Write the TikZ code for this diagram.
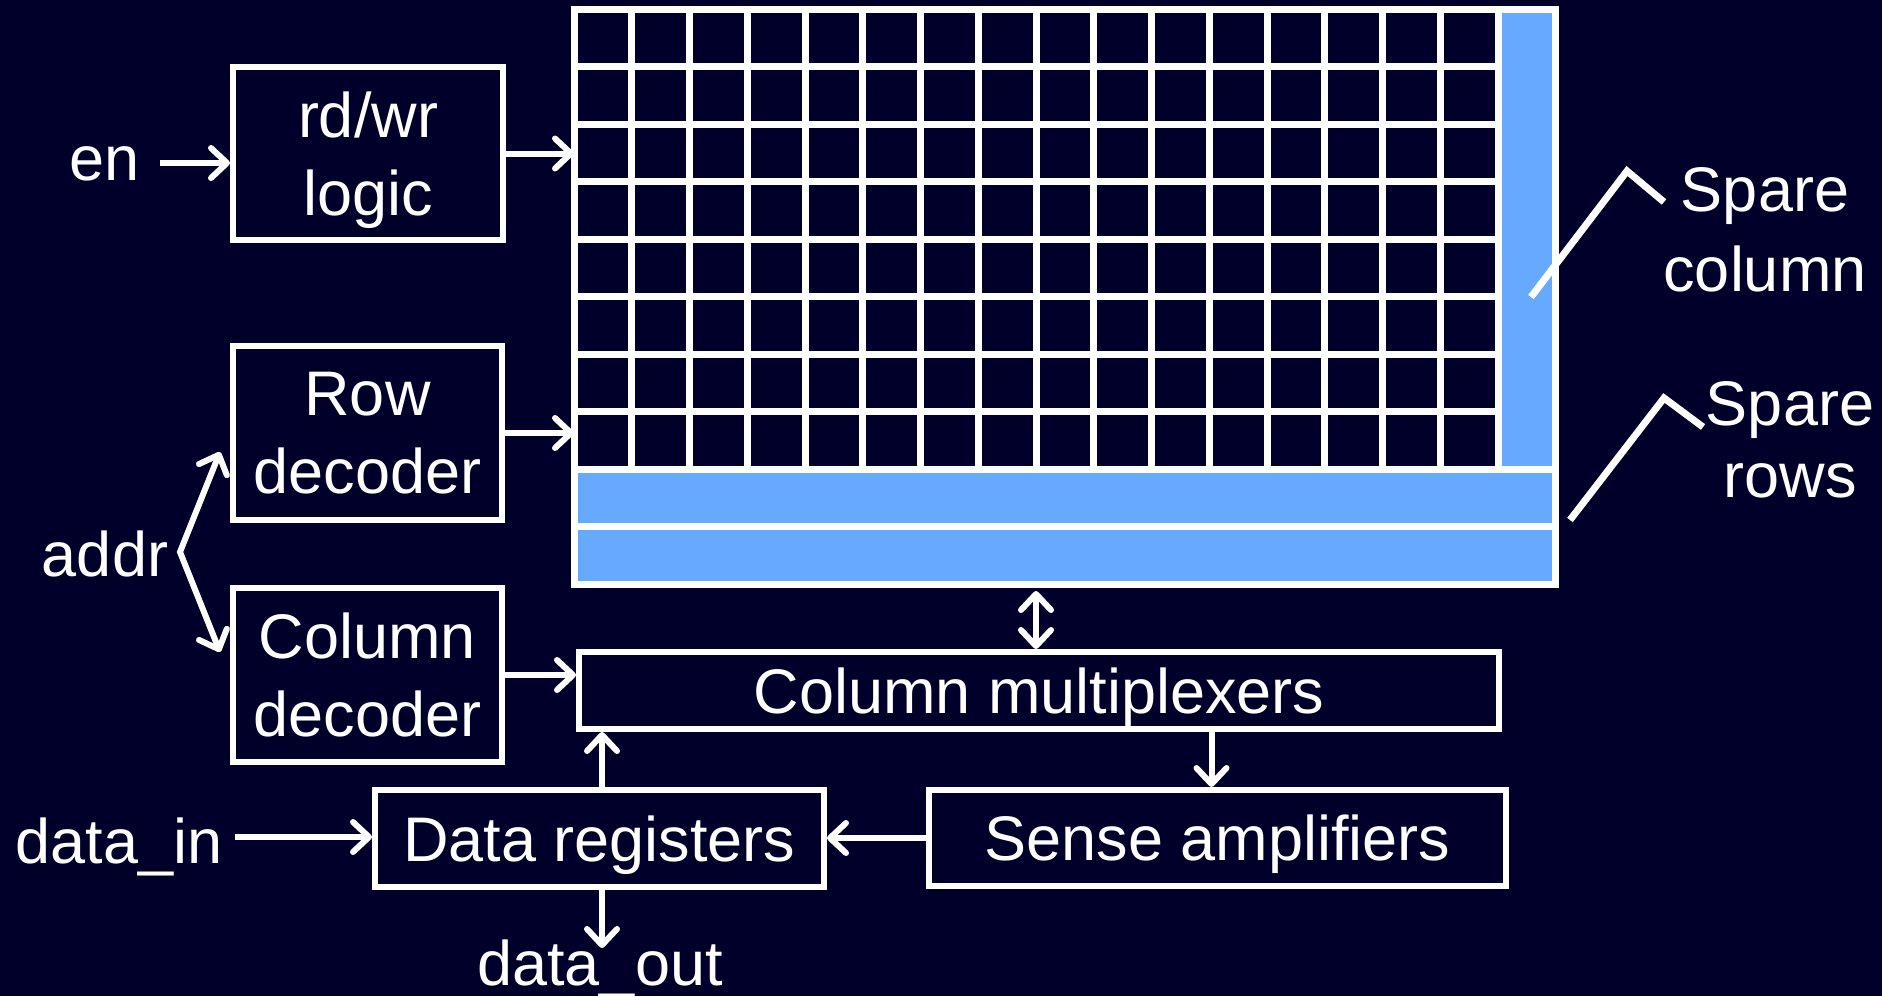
\documentclass[tikz,border=0pt]{standalone}
\usepackage{fontspec}
\setmainfont{Liberation Sans}
\usetikzlibrary{arrows.meta,calc}
\definecolor{navy}{RGB}{0,0,42}
\definecolor{sparefill}{RGB}{102,170,255}

\begin{document}
\begin{tikzpicture}[x=1pt,y=-1pt,
  lbl/.style={text=white, font=\fontsize{63}{78}\selectfont, inner sep=0pt,
              align=center, text depth=0pt},
  blk/.style={lbl, draw=white, line width=6pt, fill=navy},
  tip/.tip={Straight Barb[length=16pt,width=30pt,round]},
  sig/.style={draw=white, line width=6pt, -tip},
  sig2/.style={draw=white, line width=6pt, tip-tip},
  callout/.style={draw=white, line width=7pt},
  gridline/.style={draw=white, line width=7pt}]

% page and background
\useasboundingbox (0,0) rectangle (1882,996);
\fill[navy] (0,0) rectangle (1882,996);

% ---- memory array: 16 x 8 cells, one spare column, two spare rows ----
\def\gx{574}\def\gy{9}\def\px{57.75}\def\py{57.5}
\node[minimum width=981.75pt, minimum height=575pt, inner sep=0pt,
      outer sep=3.5pt, anchor=north west] (array) at (\gx,\gy) {};
\fill[sparefill] (\gx+16*\px,\gy) rectangle (\gx+17*\px,\gy+8*\py);
\fill[sparefill] (\gx,\gy+8*\py) rectangle (\gx+17*\px,\gy+10*\py);
\foreach \k in {1,...,16}
  \draw[gridline] (\gx+\k*\px,\gy) -- (\gx+\k*\px,\gy+8*\py);
\foreach \j in {1,...,7}
  \draw[gridline] (\gx,\gy+\j*\py) -- (\gx+16*\px,\gy+\j*\py);
\foreach \j in {8,9}
  \draw[gridline] (\gx,\gy+\j*\py) -- (\gx+17*\px,\gy+\j*\py);
\draw[gridline] (\gx,\gy) rectangle (\gx+17*\px,\gy+10*\py);

% ---- functional blocks ----
\node[blk, minimum width=270pt, minimum height=173pt] (rw)     at (368,153.5) {rd/wr\\logic};
\node[blk, minimum width=269pt, minimum height=174pt] (rowdec) at (367.5,433) {Row\\decoder};
\node[blk, minimum width=269pt, minimum height=174pt] (coldec) at (367.5,675) {Column\\decoder};
\node[blk, minimum width=920pt, minimum height=77pt]  (mux)    at (1039,690.5) {Column multiplexers};
\node[blk, minimum width=449pt, minimum height=97pt]  (datareg) at (599.5,838.5) {Data registers};
\node[blk, minimum width=577pt, minimum height=96pt]  (sense)  at (1217.5,838) {Sense amplifiers};

% ---- signal labels ----
\node[lbl, anchor=base] (en)      at (105,180) {en};
\node[lbl, anchor=base] (addr)    at (105,576) {addr};
\node[lbl, anchor=base] (datain)  at (119,863) {data\_in};
\node[lbl, anchor=base] (dataout) at (600,985) {data\_out};
\node[lbl, anchor=south, font=\fontsize{63}{80}\selectfont] (sparecol) at (1765,292) {Spare\\column};
\node[lbl, anchor=south, font=\fontsize{63}{72}\selectfont] (sparerow) at (1790,498) {Spare\\rows};

% ---- connectors ----
\coordinate (enstart)  at (160,163);
\coordinate (fork)     at (180,552);
\coordinate (addrup)   at (220,452);
\coordinate (addrdn)   at (220,652);
\coordinate (dinstart) at (235,837);
\coordinate (doutend)  at (602,948);

\draw[sig] (enstart) -- (enstart -| rw.west);
\draw[sig] (rw.east) -- (rw.east -| array.west);
\draw[sig] (rowdec.east) -- (rowdec.east -| array.west);
\draw[sig2, line join=miter] (addrup) -- (fork) -- (addrdn);
\draw[sig] (coldec.east) -- (coldec.east -| mux.west);
\draw[sig2] ([xshift=-3pt]mux.north) -- ([xshift=-3pt]mux.north |- array.south);
\draw[sig] ([xshift=-6pt]sense.north |- mux.south) -- ([xshift=-6pt]sense.north);
\draw[sig] (sense.west) -- (sense.west -| datareg.east);
\draw[sig] ([xshift=2.5pt]datareg.north) -- ([xshift=2.5pt]datareg.north |- mux.south);
\draw[sig] (dinstart) -- (dinstart -| datareg.west);
\draw[sig] (doutend |- datareg.south) -- (doutend);

% ---- leader lines to the spare column and spare rows ----
\draw[callout] (1531,297) -- (1627,171) -- (1664,202);
\draw[callout] (1570,520) -- (1664,398) -- (1703,427);
\end{tikzpicture}
\end{document}
